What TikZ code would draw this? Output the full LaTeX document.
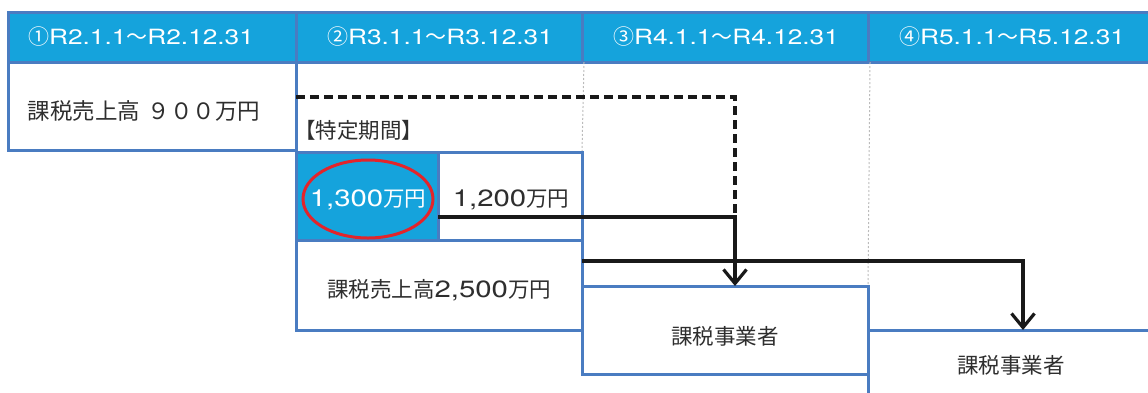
\documentclass[tikz,border=0pt]{standalone}
\usepackage{fontspec}
\setmainfont{Noto Sans CJK JP}
\newfontfamily\latfont{TeX Gyre Heros}[FakeStretch=1.25]
\newcommand\hlat[1]{{\latfont\fontsize{21}{24}\selectfont #1}}
\newcommand\blat[1]{{\latfont\fontsize{23.5}{27}\selectfont #1}}
\usetikzlibrary{arrows.meta,shapes.geometric}
\definecolor{hdr}{HTML}{15A3DC}
\definecolor{bord}{HTML}{4A7CC1}
\definecolor{txt}{HTML}{2E2E2E}
\definecolor{ring}{HTML}{E3242B}
\definecolor{dotc}{HTML}{BBBBBB}
\begin{document}
\begin{tikzpicture}[x=1pt,y=-1pt,
  every node/.style={inner sep=0pt,outer sep=0pt,font=\fontsize{21.5}{26}\selectfont,text=txt},
  hcell/.style={draw=bord,fill=hdr,line width=3pt,anchor=north west,minimum width=288pt,minimum height=50pt,text=white,font=\fontsize{21}{24}\selectfont},
  cell/.style={draw=bord,line width=3pt,anchor=north west},
  conn/.style={line width=3.2pt,black!90},
  tip/.style={-{Straight Barb[length=14pt,width=23pt,line width=3.2pt]}},
  guide/.style={dotc,line width=1pt,dash pattern=on 2pt off 2pt}]
\useasboundingbox (0,0) rectangle (1148,392);
% header
\node[hcell] (h1) at (8,12) {};
\node[text=white,font=\fontsize{21}{24}\selectfont] (ht1) at ([xshift=-11pt]h1.center) {①\hlat{R2.1.1}～\hlat{R2.12.31}};
\node[hcell] (h2) at (296,12) {②\hlat{R3.1.1}～\hlat{R3.12.31}};
\node[hcell] (h3) at (582,12) {③\hlat{R4.1.1}～\hlat{R4.12.31}};
\node[hcell] (h4) at (868,12) {④\hlat{R5.1.1}～\hlat{R5.12.31}};
% guides
\draw[guide] (h2.south east) -- (582,152);
\draw[guide] (h3.south east) -- (868,286);
% boxes
\node[cell,minimum width=288pt,minimum height=88pt] (b1) at (8,62) {};
\node[font=\fontsize{22.5}{27}\selectfont] (t1) at ([xshift=-8pt,yshift=-5pt]b1.center) {課税売上高\hspace{8pt}９００万円};
\node[anchor=west] (tk) at (294,130) {【特定期間】};
\node[cell,fill=hdr,minimum width=142pt,minimum height=88pt] (b2) at (296,152) {};
\node[text=white] (t2) at ([xshift=1pt,yshift=-4pt]b2.center) {\blat{1,300}万円};
\node[cell,minimum width=144pt,minimum height=88pt] (b3) at (438,152) {};
\node (t3) at ([xshift=1pt,yshift=-4pt]b3.center) {\blat{1,200}万円};
\node[cell,minimum width=286pt,minimum height=90pt] (b4) at (296,240) {};
\node (t4) at ([yshift=-5pt]b4.center) {課税売上高\blat{2,500}万円};
\node[cell,minimum width=286pt,minimum height=88pt] (b5) at (582,286) {};
\node (t5) at ([yshift=-6pt]b5.center) {課税事業者};
\node[cell,minimum width=288pt,minimum height=80pt] (b6) at (868,330) {};
\node (t6) at (1011,365) {課税事業者};
% red ring
\node[ellipse,draw=ring,line width=3pt,minimum width=130pt,minimum height=78pt] (rg) at (368,199) {};
% connectors
\coordinate (j) at (735,217);
\draw[conn,dash pattern=on 9pt off 5pt] ([yshift=9pt]b1.east) -| (j);
\draw[conn,tip] (b2.east |- j) -| ([xshift=10pt]b5.north);
\draw[conn,tip] ([yshift=24pt]b4.east) -| ([xshift=11pt]b6.north);
\end{tikzpicture}
\end{document}
